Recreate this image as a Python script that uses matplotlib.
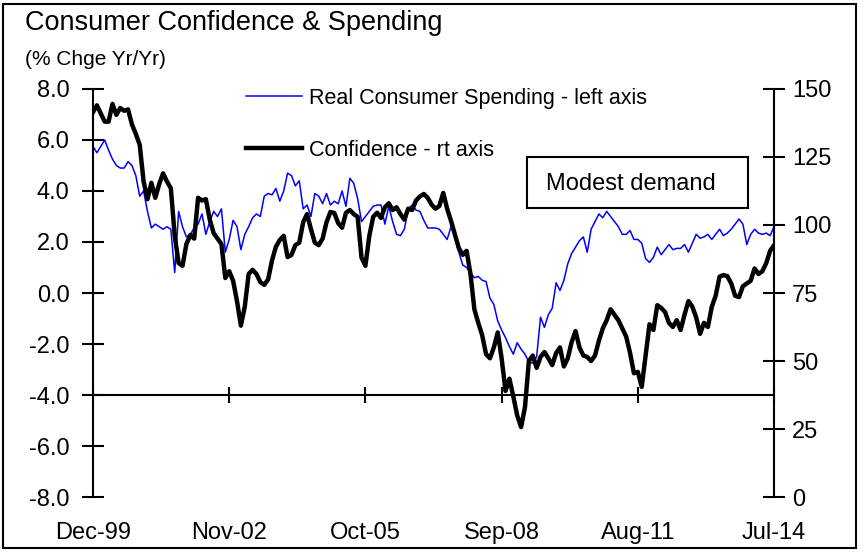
import numpy as np
import matplotlib
matplotlib.use("Agg")
import matplotlib.pyplot as plt
from matplotlib.patches import Rectangle
import matplotlib.transforms as mtransforms

plt.rcParams['font.family'] = ['Liberation Sans', 'DejaVu Sans']

# monthly data, Dec-99 .. Jul-14
spending = [  # real consumer spending, % yr/yr (left axis)
    5.75, 5.5, 5.75, 6.0, 5.6, 5.25, 5.0, 4.9, 4.9, 5.15, 5.0, 4.6,
    3.8, 4.0, 3.2, 2.55, 2.7, 2.6, 2.5, 2.6, 2.5, 0.8, 3.2, 2.6,
    2.2, 2.3, 2.55, 2.7, 3.1, 2.3, 2.8, 3.2, 3.0, 3.3, 1.6, 2.1,
    2.85, 2.6, 1.7, 2.3, 2.6, 2.95, 3.1, 3.0, 3.8, 3.9, 3.85, 4.1,
    3.6, 4.0, 4.7, 4.6, 4.2, 4.4, 3.3, 3.45, 3.0, 3.9, 3.8, 3.5,
    3.9, 3.45, 3.6, 3.5, 4.0, 3.4, 4.5, 4.3, 3.7, 2.8, 3.0, 3.2,
    3.4, 3.45, 3.45, 2.7, 3.4, 2.8, 2.3, 2.25, 2.5, 3.3, 3.45, 3.25,
    3.2, 2.85, 2.55, 2.55, 2.55, 2.5, 2.3, 2.1, 2.6, 2.2, 1.6, 1.1,
    1.0, 0.8, 0.6, 0.65, 0.5, 0.45, -0.2, -0.45, -1.1, -1.45, -1.75, -2.1,
    -2.4, -1.95, -2.2, -2.4, -2.7, -2.75, -2.5, -0.95, -1.35, -0.85, -0.6, 0.4,
    0.1, 0.5, 1.15, 1.55, 1.8, 2.05, 2.2, 1.6, 2.5, 2.8, 3.1, 2.95,
    3.2, 3.0, 2.8, 2.6, 2.3, 2.3, 2.45, 2.1, 2.1, 1.95, 1.35, 1.2,
    1.4, 1.8, 1.5, 1.7, 1.9, 1.7, 1.75, 1.75, 1.9, 1.6, 1.95, 2.3,
    2.15, 2.2, 2.3, 2.1, 2.3, 2.5, 2.25, 2.35, 2.5, 2.7, 2.9, 2.7,
    1.9, 2.3, 2.5, 2.35, 2.3, 2.35, 2.25, 2.6,
]

confidence = [  # consumer confidence index (right axis)
    141.5, 144, 141, 138, 138, 144.5, 140.5, 143, 142, 142.5, 137, 133.5,
    129.5, 116, 109.5, 115.5, 110, 115, 119, 116, 113.5, 96, 86, 85,
    93, 96.3, 95, 110, 109, 109.5, 102, 97, 95, 93, 80.5, 83,
    79.5, 72, 63, 70, 82, 83.5, 82, 79, 78, 80, 87, 92,
    94.5, 96, 88.2, 89, 92.6, 93.5, 101, 104, 98.5, 93.5, 92.6, 95,
    101, 104.8, 104.4, 100.7, 99, 104.5, 105.5, 104, 103, 88, 85, 96,
    103, 104.5, 102.6, 106.5, 108, 105.5, 106.5, 104, 102, 106, 105.5, 109,
    110.5, 111.4, 110, 107.5, 106, 107, 111.8, 106, 101.5, 96.5, 91.5, 89,
    90.5, 82, 69, 64, 59.5, 52.5, 51, 55, 60.5, 51, 39, 43.5,
    37, 30, 25.7, 33, 50, 52, 47.5, 51.5, 53.3, 51, 48.5, 52.9,
    55, 48, 51, 57, 61, 55, 52, 51.5, 50, 52, 57.5, 62,
    65, 69, 67, 65, 62, 59, 53, 45.5, 46, 40.5, 52, 63.5,
    61.4, 70.5, 69.5, 68, 64, 62.5, 65, 61.4, 67, 72, 70, 66,
    60, 64, 62.5, 69.9, 74, 81, 81.6, 81.2, 78.5, 74, 73.5, 77.5,
    78.5, 79.5, 84, 82, 83, 86, 90.5, 92.5,
]

date_labels = ["Dec-99", "Nov-02", "Oct-05", "Sep-08", "Aug-11", "Jul-14"]

months = np.arange(len(spending))
tick_pos = np.arange(0, len(spending), 35)

fig = plt.figure(figsize=(8.66, 5.52), dpi=100)
ax = fig.add_axes([0.1074, 0.0996, 0.7864, 0.7392])
ax2 = ax.twinx()

l1, = ax.plot(months, spending, color="#0000ff", lw=1.1, zorder=2)
l2, = ax2.plot(months, confidence, color="black", lw=3.2, zorder=3)

ax.set_xlim(0, len(spending) - 1)
ax.set_ylim(-8, 8)
ax2.set_ylim(0, 150)

ax.set_yticks(np.arange(-8, 8.1, 2))
ax.set_yticklabels(["%.1f" % v for v in np.arange(-8, 8.1, 2)])
ax2.set_yticks(np.arange(0, 151, 25))

ax.spines["top"].set_visible(False)
ax.spines["right"].set_visible(False)
ax2.spines["top"].set_visible(False)
ax2.spines["left"].set_visible(False)
ax2.spines["bottom"].set_visible(False)
ax.spines["bottom"].set_position(("data", -4))
for sp in [ax.spines["left"], ax.spines["bottom"], ax2.spines["right"]]:
    sp.set_linewidth(1.5)

ax.set_xticks(tick_pos)
ax.tick_params(axis="x", direction="inout", length=12, width=1.5, labelbottom=False)
ax.tick_params(axis="y", direction="inout", length=16, width=1.5, labelsize=17, pad=9)
ax2.tick_params(axis="y", direction="inout", length=16, width=1.5, labelsize=17, pad=5)

trans = mtransforms.blended_transform_factory(ax.transData, ax.transAxes)
for p, lab in zip(tick_pos, date_labels):
    ax.text(p, -0.088, lab, transform=trans, ha="center", va="center", fontsize=17)

fig.text(0.029, 0.946, "Consumer Confidence & Spending", fontsize=19.5, va="baseline")
fig.text(0.029, 0.882, "(% Chge Yr/Yr)", fontsize=15, va="baseline")

ax.legend([l1, l2], ["Real Consumer Spending - left axis", "Confidence - rt axis"],
          loc="upper left", bbox_to_anchor=(0.274, 0.857), bbox_transform=fig.transFigure,
          frameon=False, fontsize=15.5, handlelength=2.6, handletextpad=0.35,
          labelspacing=1.45, borderaxespad=0)

# annotation box
fig.patches.append(Rectangle((527 / 866, 1 - 208 / 552), 221 / 866, 51 / 552,
                             fill=False, lw=1.5, edgecolor="black",
                             transform=fig.transFigure, zorder=5))
fig.text(631 / 866, 1 - 184 / 552, "Modest demand", fontsize=17,
         ha="center", va="center", zorder=6)

# outer frame
fig.patches.append(Rectangle((0.0035, 0.0072), 0.985, 0.9856, fill=False, lw=1.5,
                             edgecolor="black", transform=fig.transFigure))

fig.savefig("out.png", dpi=100)
